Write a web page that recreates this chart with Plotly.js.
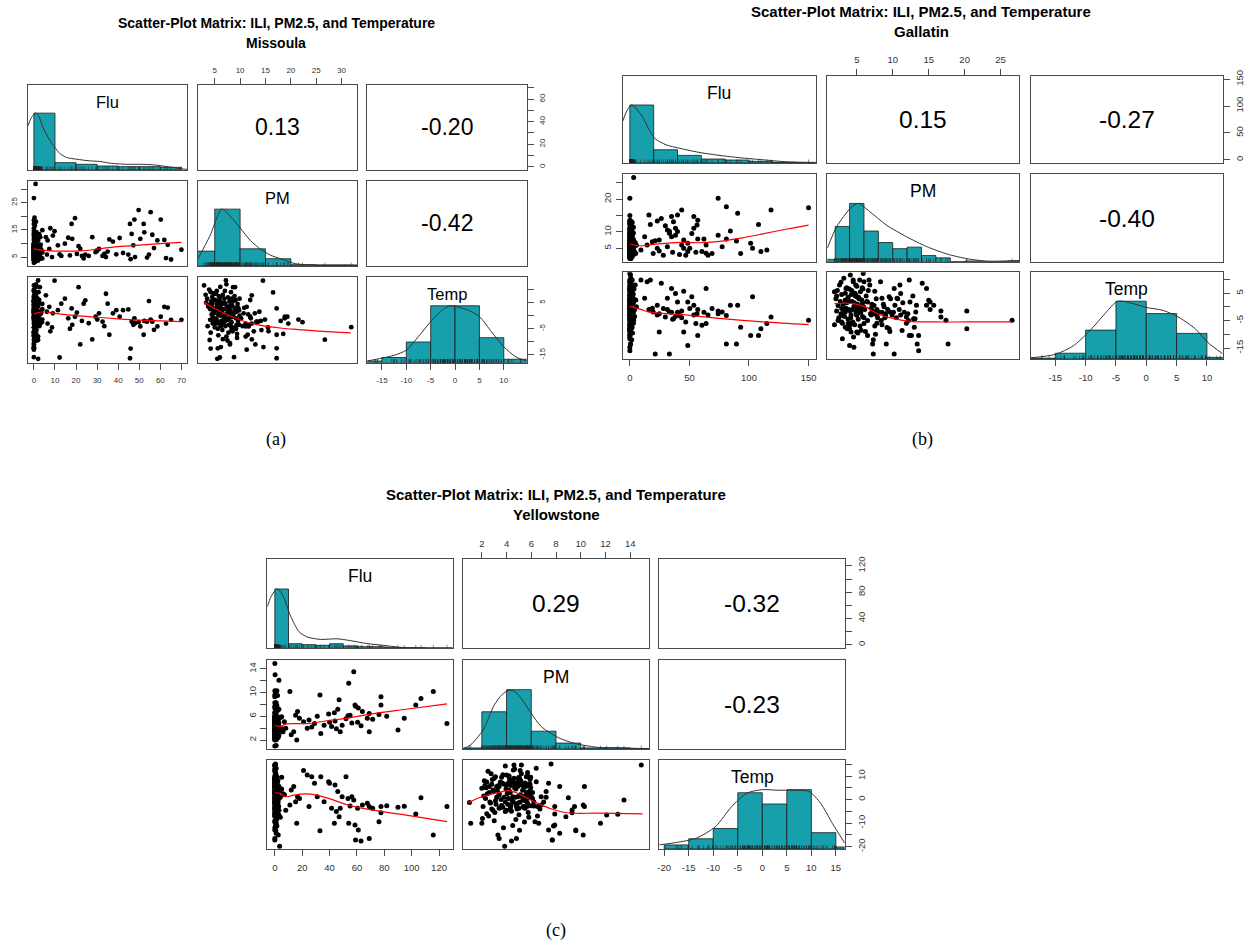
<!DOCTYPE html>
<html>
<head>
<meta charset="utf-8">
<script src="https://cdn.plot.ly/plotly-3.0.1.min.js"></script>
<style>
html,body{margin:0;padding:0;background:#ffffff;}
#chart{width:1257px;height:946px;}
</style>
</head>
<body>
<div id="chart"></div>
<script>
// ======================= DATA =======================
const varNames = ['Flu', 'PM', 'Temp'];
const mainTitle = 'Scatter-Plot Matrix: ILI, PM2.5, and Temperature';
const countyNames = ['Missoula', 'Gallatin', 'Yellowstone'];
const captionTexts = ['(a)', '(b)', '(c)'];

// ---------- (a) Missoula ----------
const missFlu = [5.7,6.5,7.3,7.8,9.0,9.8,8.6,6.2,11.4,12.2,13.0,14.7,16.3,17.1,17.9,18.2,19.5,20.4,21.2,22.0,22.8,23.6,24.4,26.0,27.7,29.3,30.1,30.9,32.6,33.4,34.2,35.0,35.8,37.5,39.1,40.7,42.3,44.8,45.6,45.9,46.4,47.2,47.7,48.0,49.7,50.5,52.1,52.4,53.7,54.6,55.4,56.2,57.0,58.6,60.2,61.9,62.7,63.5,65.1,70.0,
 0,0.5,1,0,2,0.3,1.5,0,3,0.5,1,0,2.5,0,1,0.2,4,0,1.5,0,0.8,2,0,
 0,0.5,1,0,2,0.3,1.5,0,3,0.5, 1,0,2.5,0,1,0.2,4,0,1.5,0, 0.8,2,0,0.4,1.2,0,3.5,0.6,0,1.8, 0,2.2,0.3,1,0,2.8,0.5,0,1.4,0, 0.7,2.4,0,1.1,0,3.2,0.2,1.6,0,0.9, 0,1.3,0,2.6,0.4,0,1.7,0,0.6,0, 1,0,2.1,0.3,0,1.5,0,0.8,0,2.9, 0,1.2,0,0.5,0,1.9,0,0.4,0,3.8, 0,1,0,0.6,0,
 0,1,0.5,2,0,1.5,0,3,0.8,0,2.5,0,1.2,0,4,
 0,0.5,0,1,0,0.3,
 0.8,0];
const missPM = [12.3,11.1,8.0,15.6,12.9,14.5,5.0,5.9,9.3,6.0,5.4,9.9,12.1,5.6,17.2,11.7,19.3,6.2,9.0,8.0,5.4,4.5,5.9,5.4,12.3,6.8,7.4,8.0,5.4,6.2,5.0,7.0,11.5,10.7,6.0,12.0,6.5,5.9,17.2,4.2,13.5,9.3,18.8,5.0,22.3,11.7,17.2,14.1,4.8,5.9,21.5,13.2,8.3,11.1,18.8,11.3,4.6,9.5,4.1,7.7,
 2.9,3.2,3.5,3.8,4.0,4.1,4.2,4.3,4.4,4.5,4.6,4.7,4.8,4.9,3.6,3.3,4.5,3.9,4.7,4.2,4.8,3.7,4.6,
 5.1,5.2,5.3,5.4,5.5,5.6,5.7,5.8,5.9,6.0, 6.1,6.2,6.3,6.4,6.5,6.6,6.7,6.8,6.9,7.0, 7.1,7.2,7.3,7.4,7.5,7.6,7.7,7.8,7.9,8.0, 8.1,8.2,8.3,8.4,8.5,8.6,8.7,8.8,8.9,9.0, 9.1,9.2,9.3,9.4,9.5,9.6,9.7,9.8,9.9,5.5, 5.9,6.3,6.8,7.1,7.5,7.9,8.3,8.7,9.2,9.6, 5.2,5.7,6.1,6.6,7.0,7.4,7.8,8.2,8.6,9.0, 5.4,6.0,6.5,7.2,7.7,8.1,8.5,9.4,9.8,6.9, 5.6,7.3,8.0,8.9,6.2,
 10.2,10.5,10.8,11.1,11.3,11.6,12.0,12.3,12.7,13.0,13.4,13.8,14.2,14.6,14.9,
 15.5,16.5,17.2,18.0,18.5,19.5,
 31.9,26.7];
const missTemp = [7.8,-3.0,3.4,-6.0,0.9,13.4,-4.5,1.5,2.1,-16.0,4.6,6.5,-1.0,-5.0,2.8,-3.5,-0.4,1.2,10.9,-11.0,-2.0,4.6,5.9,-2.9,-9.1,-0.4,-1.5,0.9,-2.3,-4.0,8.4,4.6,-7.3,0.9,2.1,-0.4,2.1,2.4,-16.3,-12.6,-2.3,-3.5,-1.0,-2.9,-2.5,-4.1,-7.3,-2.0,-2.3,5.6,-1.5,-2.3,-5.4,-4.1,-0.4,3.4,-3.0,3.1,-1.6,-1.6,
 11.6,8.0,6.5,4.0,-9.3,2.5,9.0,5.5,0.5,7.2,3.0,-2.0,6.0,1.0,-4.0,5.0,4.5,10.0,2.0,-6.5,8.5,3.5,-0.5,
 6.0,2.0,-1.0,9.5,-16.5,4.0,0.5,7.5,-3.0,3.0, 11.0,-12.0,5.0,1.5,-5.5,8.0,2.5,-1.5,6.5,0.0, 4.5,13.5,-8.0,3.5,-9.5,7.0,1.0,-3.5,5.5,-0.5, 2.0,9.0,-2.5,4.0,-6.0,10.9,0.5,-15.9,3.0,-4.5, 6.0,-1.0,1.5,-7.0,4.5,-2.0,2.5,-3.5,0.0,3.5, 1.0,-2.0,5.0,-4.0,2.0,-1.0,6.5,1.0,-5.0,3.0, 8.5,-7.5,0.0,-9.0,9.5,-1.5,3.0,-4.0,5.5,1.5, 2.5,7.0,-3.0,0.5,-6.5,4.0,-0.5,-8.5,2.0,-2.5, -12.5,12.0,-10.5,7.5,4.0,
 -1.0,-4.0,3.0,-8.0,-13.0,0.5,6.0,-3.0,-6.0,-11.0,-2.5,1.5,-5.5,-12.0,-1.5,
 -4.5,8.9,-12.5,-2.0,-7.0,-3.0,
 -4.4,-9.2];
const missCor = ['0.13', '-0.20', '-0.42'];
const missFluBreaks = [0,10,20,30,40,50,60,70];
const missFluCounts = [170,22,17,12,10,10,8];
const missPMBreaks = [0,5,10,15,20,25,30,35];
const missPMCounts = [45,172,52,22,4,2,2];
const missTempBreaks = [-20,-15,-10,-5,0,5,10,15];
const missTempCounts = [2,6,24,66,66,29,4];
const missDensFluX = [-2.8,-1.5,0,0.7,2,4.2,7.4,9.9,12.3,15.5,20.2,26.6,31.3,36.1,44,50.4,56.8,63.1,70.3,72.8];
const missDensFluY = [0.78,0.9,0.98,1.0,0.97,0.76,0.53,0.40,0.29,0.22,0.19,0.16,0.15,0.12,0.10,0.10,0.09,0.06,0.02,0.01];
const missDensPMX = [1.7,4,6.4,8,10,12,14.1,16,18.2,20.9,24,26.4,29,31.8,33.1];
const missDensPMY = [0.13,0.52,1.0,0.88,0.67,0.45,0.29,0.19,0.12,0.04,0.02,0.02,0.02,0.02,0.015];
const missDensTempX = [-18,-15,-12.5,-10,-7.5,-5,-2.5,-1,0,2.5,5,7.5,10,12.5,14.7];
const missDensTempY = [0.03,0.08,0.13,0.22,0.46,0.72,0.93,1.0,0.99,0.93,0.81,0.54,0.28,0.10,0.03];
const missLoessFPX = [0,3,8,15,20,25,30,40,50,60,70];
const missLoessFPY = [8.0,7.6,7.3,7.2,7.2,7.4,7.9,8.8,9.4,9.9,10.4];
const missLoessFTX = [0,2,5,10,20,30,40,50,60,70];
const missLoessFTY = [0.6,1.2,1.5,0.9,0.0,-0.6,-1.2,-1.7,-2.0,-2.3];
const missLoessPTX = [2.9,4,5.9,7.5,9.2,11,13.1,15,18.3,21.5,24.9,28,31.8];
const missLoessPTY = [5.1,3.8,1.8,0.3,-1.0,-2.3,-3.3,-4.0,-4.8,-5.3,-5.8,-6.2,-6.6];
const missTickFlu = [0,10,20,30,40,50,60,70];
const missLabFluRight = ['0','','20','','40','','60',''];
const missTickPM = [5,10,15,20,25,30];
const missLabPMLeft = ['5','','15','','25',''];
const missTickTemp = [-15,-10,-5,0,5,10];
const missLabTempRight = ['-15','','-5','','5',''];

// ---------- (b) Gallatin ----------
const gallFlu = [9.3,12.4,14.5,16.0,17.2,18.9,19.6,21.3,23.0,23.0,24.7,24.7,26.4,28.1,29.8,31.5,31.5,33.2,33.2,35.0,35.0,35.9,36.6,38.3,38.3,40.0,40.0,41.7,43.5,43.5,45.2,45.2,46.9,48.6,48.6,50.3,52.0,53.7,53.7,55.4,56.4,57.0,57.0,60.5,62.2,64.0,64.0,65.6,69.0,74.1,74.1,77.5,81.0,81.0,84.4,89.5,90.5,93.0,101.4,103.0,108.0,110.0,115.0,118.5,150.0,
 0,1,
 0,0.5,1,0,2,0,0.3,1.5,0,3,0,0.8,0,2.5,0,1.2,0,0.4,4,0,1,0,2,0,0.6,0,5,
 0,0.5,1,0,2,0,0.3,1.5,0,3,0,0.8,0,2.5,0,1.2,0,0.4,4,0,1,0,2,0,0.6,0,1.8,0,0.2,3.5,0,1.4,0,0.7,0,2.2,0,1,0,5.5,0,0.5,0,1.6,0,2.8,0,
 0,1,0,2,0,0.5,1.5,0,3,0,0.8,0,2.4,0,1.1,0,0.3,4.5,0,
 0,1,0,2,0,0.5,1.5,0,3,0,0.7,0,1.9,0,
 0,1,0,2,0,0.5,1.2,0,3,
 0,1,0,2,0,0.6,0,1.5,0,
 0,
 0,3.2];
const gallPM = [4.5,8.5,6.0,15.2,12.3,7.0,3.4,7.3,13.3,5.0,7.5,4.2,14.1,2.9,11.9,10.6,5.5,9.6,10.2,14.7,8.5,3.8,13.1,11.1,9.0,15.2,10.1,3.1,16.7,6.0,7.5,5.0,2.9,6.5,4.0,5.0,9.5,14.7,11.1,3.8,12.1,13.6,7.8,4.0,7.8,3.5,6.0,2.9,3.4,9.0,20.3,5.5,7.8,17.7,10.3,7.2,15.7,3.4,6.5,5.0,12.3,4.0,4.5,16.7,17.4,
 1.9,1.9,
 2.1,2.2,2.3,2.4,2.5,2.6,2.7,2.8,2.9,3.0,3.1,3.2,3.3,3.4,3.5,3.6,3.7,3.8,3.9,3.95,2.4,2.8,3.2,3.6,2.2,3.0,3.4,
 4.0,4.1,4.2,4.3,4.4,4.5,4.6,4.7,4.8,4.9,5.0,5.1,5.2,5.3,5.4,5.5,5.6,5.7,5.8,5.9,4.05,4.25,4.45,4.65,4.85,5.05,5.25,5.45,5.65,5.85,4.15,4.35,4.55,4.75,4.95,5.15,5.35,5.55,5.75,5.95,4.6,5.0,5.4,5.8,4.2,4.8,5.2,
 6.1,6.3,6.5,6.7,6.9,7.1,7.3,7.5,7.7,7.9,6.2,6.6,7.0,7.4,7.8,6.4,7.2,6.8,7.6,
 8.1,8.3,8.5,8.7,8.9,9.1,9.3,9.5,9.7,9.9,8.4,8.8,9.2,9.6,
 10.2,10.5,10.7,11.0,11.3,11.6,11.9,10.9,11.4,
 12.2,12.4,12.6,12.9,13.2,13.4,13.6,13.0,12.8,
 15.0,
 20.3,26.6];
const gallTemp = [9.8,3.1,9.2,-1.0,9.8,-0.5,-1.9,-17.2,0.6,-3.0,-2.5,-9.2,8.6,-0.6,-3.7,3.1,-1.0,-1.9,-17.2,6.7,-2.0,-4.5,-4.3,4.9,-3.5,1.8,-2.0,-3.1,-1.5,-4.0,5.7,-9.2,-5.5,1.8,-14.1,-0.6,3.7,0.6,-3.0,-6.1,-2.5,-10.4,-1.0,-6.7,-2.0,6.7,-6.1,-3.0,-0.6,-2.5,-1.5,-1.9,-3.1,-13.5,0.6,-13.5,0.6,-7.4,-10.4,3.7,-10.4,-8.0,-6.1,-3.7,-4.9,
 5.5,-6.5,
 3.0,-1.5,6.0,0.5,-4.0,8.0,2.0,-2.5,4.5,-6.0,1.0,10.4,-3.5,5.0,-0.5,7.0,-8.0,3.5,-1.0,6.5,-5.0,9.0,-2.0,1.5,4.0,-11.6,2.5,
 2.0,11.6,-3.0,6.0,-1.0,9.2,0.0,-6.5,4.0,-2.0,7.5,1.0,-4.5,3.0,-0.5,5.5,-8.5,2.5,-3.5,12.2,-1.5,4.5,-5.5,1.5,8.0,-2.5,3.5,-7.0,0.5,6.5,-4.0,2.0,-11.0,5.0,-1.0,-9.5,3.0,-2.0,7.0,0.0,-14.7,-3.0,9.8,1.5,-6.0,4.5,-0.5,
 -1.0,4.0,-5.0,9.8,-2.5,1.0,-12.0,-7.0,3.0,-4.0,-9.0,6.0,-3.0,0.5,-6.0,2.0,-1.5,8.0,-10.0,
 -2.0,9.2,-6.5,1.0,-4.0,-13.5,-1.0,-8.0,3.0,-3.0,-5.0,0.0,-7.5,-9.0,
 6.7,-4.0,3.0,8.0,-8.6,-2.0,-6.0,-1.0,1.5,
 -5.0,1.8,-10.4,-4.3,-1.9,-13.5,-16.0,-7.4,4.0,
 2.4,
 -8.0,-4.9];
const gallCor = ['0.15', '-0.27', '-0.40'];
const gallFluBreaks = [0,20,40,60,80,100,120,140,160];
const gallFluCounts = [175,40,23,12,9,5,2,1];
const gallPMBreaks = [0,2,4,6,8,10,12,14,16,18,20,22,24,26,28];
const gallPMCounts = [3,46,76,40,25,17,19,8,5,0,1,0,0,1];
const gallTempBreaks = [-20,-15,-10,-5,0,5,10,15];
const gallTempCounts = [1,7,35,70,55,31,2];
const gallDensFluX = [-6,-3,0,1.5,5,11.3,16,21.1,30.9,44.9,58.9,75.7,92.5,109.3,131.7,156];
const gallDensFluY = [0.72,0.88,0.98,1.0,0.95,0.77,0.58,0.42,0.31,0.24,0.18,0.13,0.09,0.06,0.02,0.01];
const gallDensPMX = [0.9,2.2,4.2,5.2,6.8,9.1,11.9,14.7,17.6,20.4,23.2,27.6];
const gallDensPMY = [0.23,0.6,0.93,1.0,0.86,0.63,0.43,0.26,0.13,0.05,0.01,0.02];
const gallDensTempX = [-19,-15,-12,-9.3,-6.6,-4.9,-3.9,-1.9,0.1,2.8,5.4,8.1,10.1,12.6];
const gallDensTempY = [0.02,0.08,0.23,0.49,0.81,0.99,1.0,0.95,0.89,0.84,0.72,0.52,0.29,0.09];
const gallLoessFPX = [0,5,9.3,20,43.5,60.5,77.5,94.6,111.6,132,150];
const gallLoessFPY = [6.3,5.9,5.7,6.2,6.8,6.7,7.2,8.2,9.4,10.9,12.1];
const gallLoessFTX = [0,9.3,16.2,43.5,77.5,111.6,150];
const gallLoessFTY = [0.2,-0.9,-1.9,-2.8,-4.3,-5.5,-6.5];
const gallLoessPTX = [1.9,4.5,6.2,7.9,10.2,12.4,15.8,20.4,26.6];
const gallLoessPTY = [1.2,1.2,0,-2.5,-4.3,-5.3,-5.5,-5.5,-5.5];
const gallTickFlu = [0,50,100,150];
const gallLabFluRight = ['0','50','100','150'];
const gallTickPM = [5,10,15,20,25];
const gallLabPMLeft = ['5','10','','20',''];
const gallTickTemp = [-15,-10,-5,0,5,10];
const gallLabTempRight = ['-15','','-5','','5',''];

// ---------- (c) Yellowstone ----------
const yellFlu = [11.0,12.0,13.8,15.2,16.0,16.6,18.0,21.0,23.7,25.0,27.0,29.0,31.0,33.0,33.6,36.0,39.3,40.0,41.5,43.5,44.0,45.0,46.0,47.0,47.8,49.2,52.0,53.5,54.0,55.0,56.3,57.7,58.6,59.0,60.5,61.0,63.0,64.0,67.6,69.0,69.0,71.5,76.1,77.6,77.6,81.8,90.0,94.6,103.0,106.8,115.8,125.8,
 0,1,
 0,0.5,1,0,2,0,0.3,1.5,0,3,0,0.8,0,2.5,0,1.2,0,0.4,4,0,1,0,2,0,0.6,0,1.8,0,0.2,3.5,0,1.4,0,0.7,0,2.2,0,1,0,5,0,0.5,0,1.6,0,2.8,0,6,0,
 0,0.5,1,0,2,0,0.3,1.5,0,3,0,0.8,0,2.5,0,1.2,0,0.4,4,0,1,0,2,0,0.6,0,1.8,0,0.2,3.5,0,1.4,0,0.7,0,2.2,0,1,0,5,0,0.5,0,1.6,0,2.8,0,7,0,0.9,0,1.1,0,0.3,0,1.9,0,0.6,0,8,0,1.3,0,0.4,0,2.4,0,1,0,3,0,0.7,
 0,1,0,2,0,0.5,1.5,0,3,0,
 0,1,0,2,0,
 0,1.5,
 3,0.2,
 0];
const yellPM = [10.2,2.9,3.4,6.2,2.0,6.8,5.7,5.1,4.0,5.4,4.2,4.8,6.0,9.6,3.1,4.5,6.4,5.0,4.3,6.6,5.2,3.9,7.2,8.8,3.4,4.5,5.6,6.1,11.6,6.2,4.9,13.5,7.9,7.7,5.0,7.4,4.4,6.8,5.7,6.5,3.4,5.5,6.3,7.9,9.3,6.0,3.7,5.7,7.9,9.0,10.2,4.8,
 1.0,1.1,
 2.0,2.1,2.2,2.3,2.4,2.5,2.6,2.7,2.8,2.9,3.0,3.1,3.2,3.3,3.4,3.5,3.6,3.7,3.8,3.9,2.05,2.25,2.45,2.65,2.85,3.05,3.25,3.45,3.65,3.85,2.15,2.35,2.55,2.75,2.95,3.15,3.35,3.55,3.75,3.95,2.4,2.8,3.2,3.6,3.9,2.6,3.0,3.4,3.8,
 4.0,4.1,4.2,4.3,4.4,4.5,4.6,4.7,4.8,4.9,5.0,5.1,5.2,5.3,5.4,5.5,5.6,5.7,5.8,5.9,4.05,4.25,4.45,4.65,4.85,5.05,5.25,5.45,5.65,5.85,4.15,4.35,4.55,4.75,4.95,5.15,5.35,5.55,5.75,5.95,4.1,4.5,4.9,5.3,5.7,4.3,4.7,5.1,5.5,5.9,4.2,4.6,5.0,5.4,5.8,4.4,4.8,5.2,5.6,4.0,4.35,4.75,5.15,5.55,5.95,4.55,4.95,5.35,5.75,4.15,4.65,5.05,
 6.1,6.4,6.7,7.0,7.4,7.6,7.8,6.5,7.2,7.7,
 8.3,8.3,9.3,9.5,9.6,
 10.3,10.3,
 12.1,13.0,
 14.9];
const yellTemp = [-2.3,4.1,5.5,-0.9,-10.1,1.2,0.5,12.3,10.4,-3.0,9.7,6.9,1.2,-13.2,9.7,-0.9,7.6,6.9,-3.7,-10.1,6.2,-5.1,3.4,-7.3,-3.7,1.2,9.7,0.5,-10.1,-2.7,1.2,-0.2,-10.8,-17.2,-3.7,-12.9,-17.6,-2.3,-1.6,-3.0,-16.5,-3.7,-9.4,-3.0,-5.6,-2.6,-3.3,-2.8,-6.1,0.8,-15.1,-3.0,
 -1.3,-10.1,
 4.8,-3.0,8.0,0.5,-6.0,12.0,3.0,-1.5,6.5,-4.5,9.0,-0.5,5.5,-15.1,2.0,7.5,-2.5,10.5,1.0,14.3,-8.0,6.0,2.5,-1.0,8.5,-5.5,4.0,-3.5,7.0,-19.8,1.5,5.0,-7.0,11.0,3.5,-2.0,6.0,0.0,-12.0,4.5,7.5,-4.0,1.0,9.5,-1.0,5.5,-9.0,2.5,6.5,
 6.0,-2.0,10.0,3.0,-5.0,8.0,14.7,1.0,-16.5,5.5,9.5,-1.0,14.7,4.0,-3.5,7.0,0.5,11.5,-7.5,6.5,2.5,8.5,-0.5,5.0,-4.0,9.0,1.5,-9.5,6.0,3.5,7.0,-2.5,12.5,4.5,-1.5,8.0,0.0,5.5,-5.5,9.5,3.5,-11.0,7.5,1.0,10.0,-3.0,6.5,2.0,-0.5,8.5,4.0,9.0,-6.5,5.0,2.5,7.0,-2.0,11.0,3.0,-4.5,6.0,-8.5,8.0,1.5,5.0,-1.0,9.0,-3.0,6.5,0.5,13.0,-13.0,
 3.0,13.3,-4.0,-1.0,6.9,15.1,-11.2,-7.0,1.0,-17.2,
 5.5,-14.3,-4.4,-3.0,-12.9,
 5.5,-3.0,
 -6.6,-6.2,
 14.7];
const yellCor = ['0.29', '-0.32', '-0.23'];
const yellFluBreaks = [0,10,20,30,40,50,60,70,80,90,100,110,120,130];
const yellFluCounts = [180,14,11,9,14,7,5,5,3,2,2,1,1];
const yellPMBreaks = [0,2,4,6,8,10,12,14,16];
const yellPMCounts = [2,69,110,33,11,2,2,1];
const yellTempBreaks = [-20,-15,-10,-5,0,5,10,15,20];
const yellTempCounts = [4,10,20,55,44,58,16,2];
const yellDensFluX = [-5.5,-3,0,1.5,4,6.8,11.6,17.7,23.7,33.4,45.5,55.1,67.2,79.3,91.4,110.7,130];
const yellDensFluY = [0.70,0.86,0.97,1.0,0.96,0.84,0.54,0.28,0.19,0.15,0.16,0.13,0.08,0.05,0.017,0.006,0.006];
const yellDensPMX = [0.5,1.1,2.1,3.0,3.65,4.2,4.6,5.2,5.9,6.8,8.1,9.4,11.3,13.2,15.5];
const yellDensPMY = [0.006,0.07,0.32,0.74,0.92,0.99,0.98,0.85,0.63,0.38,0.20,0.10,0.03,0.02,0.0];
const yellDensTempX = [-21,-17.5,-13.5,-9.5,-6.3,-3.2,0,3.2,6.3,9.5,11.9,14.3,16.8];
const yellDensTempY = [0.07,0.11,0.18,0.38,0.71,0.94,1.0,0.99,0.99,0.97,0.77,0.43,0.1];
const yellLoessFPX = [0,3.9,8.1,25.1,39.3,53.5,67.6,96,125.8];
const yellLoessFPY = [4.5,4.3,4.7,4.8,5.3,5.7,6.3,7.2,8.1];
const yellLoessFTX = [0,3.9,8.1,13.8,22.3,30.8,39.3,53.5,67.6,96,125.8];
const yellLoessFTY = [2.9,2.6,1.2,1.9,2.4,1.9,0.5,-2.3,-4.1,-6.6,-9.4];
const yellLoessPTX = [0.9,2.0,3.3,4.2,5.2,6.4,7.7,8.9,11.5,15.0];
const yellLoessPTY = [-1.3,1.2,2.9,3.8,1.9,-1.3,-4.1,-5.6,-5.8,-6.1];
const yellTickFlu = [0,20,40,60,80,100,120];
const yellLabFluRight = ['0','','40','','80','','120'];
const yellTickPM = [2,4,6,8,10,12,14];
const yellLabPMLeft = ['2','','6','','10','','14'];
const yellTickTemp = [-20,-15,-10,-5,0,5,10,15];
const yellLabTempRight = ['-20','','-10','','0','','10',''];

// ======================= BUILD =======================
const W = 1257, H = 946;
const TEAL = '#17A0AC';
const BOX = '#4a4a4a';
const FONT = '"Liberation Sans", Arial, Helvetica, sans-serif';

const matrices = [
  { flu: missFlu, pm: missPM, temp: missTemp, cor: missCor,
    hist: [[missFluBreaks, missFluCounts], [missPMBreaks, missPMCounts], [missTempBreaks, missTempCounts]],
    dens: [[missDensFluX, missDensFluY], [missDensPMX, missDensPMY], [missDensTempX, missDensTempY]],
    loess: { '10': [missLoessFPX, missLoessFPY], '20': [missLoessFTX, missLoessFTY], '21': [missLoessPTX, missLoessPTY] },
    tFlu: missTickFlu, lFluR: missLabFluRight, tPM: missTickPM, lPML: missLabPMLeft, tTemp: missTickTemp, lTempR: missLabTempRight,
    st: { colX: [[28,187.3],[198,357.3],[367.3,526.7]], rowY: [[84.7,170],[180.7,266],[277.3,362.7]],
          ranges: [[-2.8,72.8],[1.7,33.1],[-18,14.7]], tick: 8, name: 16.5, cor: 23, pt: 4.8,
          title: { x: 276, y1: 23, y2: 43, size: 14 }, cap: { x: 276, y: 440 } } },
  { flu: gallFlu, pm: gallPM, temp: gallTemp, cor: gallCor,
    hist: [[gallFluBreaks, gallFluCounts], [gallPMBreaks, gallPMCounts], [gallTempBreaks, gallTempCounts]],
    dens: [[gallDensFluX, gallDensFluY], [gallDensPMX, gallDensPMY], [gallDensTempX, gallDensTempY]],
    loess: { '10': [gallLoessFPX, gallLoessFPY], '20': [gallLoessFTX, gallLoessFTY], '21': [gallLoessPTX, gallLoessPTY] },
    tFlu: gallTickFlu, lFluR: gallLabFluRight, tPM: gallTickPM, lPML: gallLabPMLeft, tTemp: gallTickTemp, lTempR: gallLabTempRight,
    st: { colX: [[622.7,815.7],[827.3,1019.3],[1031,1222.7]], rowY: [[76,163],[174.3,261.7],[272.3,359]],
          ranges: [[-6,156],[0.9,27.6],[-19,12.6]], tick: 9.5, name: 17.5, cor: 24.5, pt: 5,
          title: { x: 921, y1: 11, y2: 31, size: 15 }, cap: { x: 922, y: 440 } } },
  { flu: yellFlu, pm: yellPM, temp: yellTemp, cor: yellCor,
    hist: [[yellFluBreaks, yellFluCounts], [yellPMBreaks, yellPMCounts], [yellTempBreaks, yellTempCounts]],
    dens: [[yellDensFluX, yellDensFluY], [yellDensPMX, yellDensPMY], [yellDensTempX, yellDensTempY]],
    loess: { '10': [yellLoessFPX, yellLoessFPY], '20': [yellLoessFTX, yellLoessFTY], '21': [yellLoessPTX, yellLoessPTY] },
    tFlu: yellTickFlu, lFluR: yellLabFluRight, tPM: yellTickPM, lPML: yellLabPMLeft, tTemp: yellTickTemp, lTempR: yellLabTempRight,
    st: { colX: [[267.3,452.7],[463.3,648.7],[659.3,844.7]], rowY: [[559.3,648.3],[660,749],[760,849]],
          ranges: [[-5.5,130],[0.5,15.5],[-21,16.8]], tick: 9.5, name: 17.5, cor: 24.5, pt: 5,
          title: { x: 556, y1: 494, y2: 514, size: 15 }, cap: { x: 556, y: 930 } } }
];

const traces = [];
const annotations = [];
const layout = {
  width: W, height: H, margin: { l: 0, r: 0, t: 0, b: 0 },
  paper_bgcolor: '#ffffff', plot_bgcolor: 'rgba(0,0,0,0)',
  showlegend: false, hovermode: false, dragmode: false,
  font: { family: FONT, color: '#000' }
};
const sfx = n => (n === 1 ? '' : String(n));

function baseAxis() {
  return { showline: true, mirror: true, linecolor: BOX, linewidth: 1, showgrid: false, zeroline: false,
           ticks: '', showticklabels: false, fixedrange: true };
}
function tickAxis(ax, vals, labels, side, S, isY, standoff) {
  Object.assign(ax, { side: side, ticks: 'outside', ticklen: 6, tickwidth: 1, tickcolor: BOX,
    tickvals: vals, ticktext: labels, showticklabels: true,
    tickfont: { family: FONT, size: S.tick, color: '#333' }, ticklabelstandoff: standoff,
    tickangle: isY ? -90 : 0 });
}

matrices.forEach((M, mi) => {
  const S = M.st;
  const base = mi * 10;
  const vars = [M.flu, M.pm, M.temp];
  const id = (r, c) => base + r * 3 + c + 1;
  for (let r = 0; r < 3; r++) {
    for (let c = 0; c < 3; c++) {
      const n = id(r, c), xs = 'x' + sfx(n), ys = 'y' + sfx(n);
      const [x0, x1] = S.colX[c], [y0, y1] = S.rowY[r];
      const xa = baseAxis(); xa.domain = [x0 / W, x1 / W]; xa.anchor = ys; xa.range = S.ranges[c];
      const ya = baseAxis(); ya.domain = [1 - y1 / H, 1 - y0 / H]; ya.anchor = xs;
      ya.range = (r === c) ? [0, 1.5] : S.ranges[r];
      layout['xaxis' + sfx(n)] = xa; layout['yaxis' + sfx(n)] = ya;
      if (r === c) {
        const [br, cn] = M.hist[c];
        const mx = Math.max(...cn);
        traces.push({ type: 'bar', x: cn.map((v, i) => (br[i] + br[i + 1]) / 2), y: cn.map(v => v / mx),
          width: cn.map((v, i) => br[i + 1] - br[i]),
          marker: { color: TEAL, line: { color: '#1a1a1a', width: 0.8 } }, xaxis: xs, yaxis: ys });
        const [dx, dy] = M.dens[c];
        traces.push({ type: 'scatter', mode: 'lines', x: dx, y: dy,
          line: { color: '#333', width: 1, shape: 'spline', smoothing: 0.7 }, xaxis: xs, yaxis: ys });
        traces.push({ type: 'scatter', mode: 'markers', x: vars[c], y: vars[c].map(() => 0),
          marker: { symbol: 'line-ns-open', size: 5, color: '#222', line: { width: 0.5, color: '#222' } },
          xaxis: xs, yaxis: ys });
        annotations.push({ xref: xs + ' domain', yref: ys + ' domain', x: 0.5, y: 1 - 17 / (y1 - y0),
          text: varNames[c], showarrow: false, xanchor: 'center', yanchor: 'middle',
          font: { family: FONT, size: S.name, color: '#000' } });
      } else if (r > c) {
        traces.push({ type: 'scatter', mode: 'markers', x: vars[c], y: vars[r],
          marker: { color: '#000', size: S.pt, line: { width: 0 } }, xaxis: xs, yaxis: ys });
        const L = M.loess[String(r) + String(c)];
        traces.push({ type: 'scatter', mode: 'lines', x: L[0], y: L[1],
          line: { color: '#ff0000', width: 1.2, shape: 'spline' }, xaxis: xs, yaxis: ys });
      } else {
        traces.push({ type: 'scatter', mode: 'markers', x: [], y: [], xaxis: xs, yaxis: ys });
        const ci = (r === 0 && c === 1) ? 0 : (r === 0 && c === 2) ? 1 : 2;
        annotations.push({ xref: xs + ' domain', yref: ys + ' domain', x: 0.5, y: 0.5,
          text: M.cor[ci], showarrow: false, xanchor: 'center', yanchor: 'middle',
          font: { family: FONT, size: S.cor, color: '#000' } });
      }
    }
  }
  tickAxis(layout['xaxis' + sfx(id(0, 1))], M.tPM, M.tPM.map(String), 'top', S, false, 2);
  tickAxis(layout['yaxis' + sfx(id(0, 2))], M.tFlu, M.lFluR, 'right', S, true, 2);
  tickAxis(layout['yaxis' + sfx(id(1, 0))], M.tPM, M.lPML, 'left', S, true, 1);
  tickAxis(layout['xaxis' + sfx(id(2, 0))], M.tFlu, M.tFlu.map(String), 'bottom', S, false, 4);
  tickAxis(layout['xaxis' + sfx(id(2, 2))], M.tTemp, M.tTemp.map(String), 'bottom', S, false, 4);
  const dn = id(2, 2), on = base + 10;
  const oy = { overlaying: 'y' + sfx(dn), anchor: 'x' + sfx(dn), range: S.ranges[2], showline: false,
               showgrid: false, zeroline: false, fixedrange: true };
  tickAxis(oy, M.tTemp, M.lTempR, 'right', S, true, 2);
  layout['yaxis' + sfx(on)] = oy;
  traces.push({ type: 'scatter', mode: 'markers', x: [], y: [], xaxis: 'x' + sfx(dn), yaxis: 'y' + sfx(on) });
  annotations.push({ xref: 'paper', yref: 'paper', x: S.title.x / W, y: 1 - S.title.y1 / H,
    text: '<b>' + mainTitle + '</b>', showarrow: false, xanchor: 'center', yanchor: 'middle',
    font: { family: FONT, size: S.title.size, color: '#000' } });
  annotations.push({ xref: 'paper', yref: 'paper', x: S.title.x / W, y: 1 - S.title.y2 / H,
    text: '<b>' + countyNames[mi] + '</b>', showarrow: false, xanchor: 'center', yanchor: 'middle',
    font: { family: FONT, size: S.title.size, color: '#000' } });
  annotations.push({ xref: 'paper', yref: 'paper', x: S.cap.x / W, y: 1 - S.cap.y / H,
    text: captionTexts[mi], showarrow: false, xanchor: 'center', yanchor: 'middle',
    font: { family: '"Liberation Serif", "DejaVu Serif", serif', size: 18, color: '#000' } });
});

layout.annotations = annotations;
Plotly.newPlot('chart', traces, layout, { staticPlot: true, displayModeBar: false });
</script>
</body>
</html>
